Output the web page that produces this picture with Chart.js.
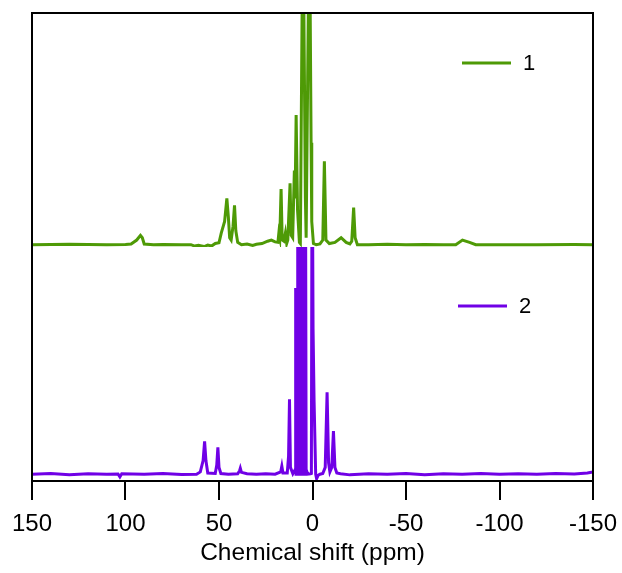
<!DOCTYPE html>
<html lang="en">
<head>
    <meta charset="UTF-8" />
    <title>13C NMR spectra</title>
    <script src="https://cdn.jsdelivr.net/npm/chart.js"></script>
    <style>
        body {
            margin: 0;
            background: #fff;
        }
        canvas {
            display: block;
        }
    </style>
</head>
<body>

<canvas id="nmr" width="622" height="573"></canvas>

<script>
// Spectrum 1 (top trace): chemical shift (ppm) and intensity (arb. units)
const shift1 = [150, 130, 110, 100, 97, 94, 92, 91, 90, 85, 80, 70, 65, 63, 61, 58, 56, 54, 52, 50,
    48.8, 47, 45.8, 45, 44.3, 43.5, 42.5, 41.7, 41, 40, 38, 35, 32, 30, 27, 24, 22, 20, 18.5,
    18, 17.5, 16.8, 16.2, 15.3, 14.5, 13.8, 13.2, 12.0, 11.4, 10.6, 9.7, 9.3, 8.75, 8.0, 7.0, 6.5,
    5.1, 3.8, 3.4, 1.65, 0.75, 0.4, -0.5, -2, -4, -5.5, -6.35, -7.2, -9, -12, -15.3, -18, -20,
    -21, -22, -22.8, -24, -30, -40, -50, -60, -70, -76.6, -80.2, -84, -87.3, -100, -120, -140, -150];
const int1 = [0, 0.2, 0, 0.1, 0.3, 2, 4, 3, 0.3, 0, 0.1, 0, 0, -0.6, -0.3, -0.8, -0.2, -0.6, 0.5, 0.8,
    5, 10, 20, 12, 3, 2, 8, 17, 6, 1, 0, 0.3, -0.3, 0.2, 0.5, 1.5, 2, 1.2, 1,
    5, 3, 24, 2, 1.5, 5, 0.5, 2, 26.5, 4, 3, 32, 20, 56, 15, 1, 0.5,
    150, 20, 3, 150, 44, 10, 0.5, 0, 0.3, 2, 36, 2, 0.5, 1, 3, 1, 0.3,
    1.5, 16, 3, 0, 0, 0.2, 0, 0.1, 0, 0, 2, 1, 0, 0, 0, 0.1, 0];

// Spectrum 2 (bottom trace)
const shift2 = [150, 140, 130, 120, 110, 104, 103, 102, 90, 80, 70, 62, 60, 58.5, 57.7, 57, 56, 52,
    51.2, 50.6, 50, 49, 45, 40, 39, 38.6, 38, 35, 30, 25, 20, 17, 16.4, 15.8, 13.5, 12.8, 12.3,
    11.8, 10.5, 9.3, 9.0, 8.8, 8.6, 8.4, 8.2, 8.0,
    7.8, 7.6, 7.4, 7.2, 7.0, 6.8, 6.6, 6.4, 6.2, 6.0, 5.8, 5.6, 5.4, 5.2, 5.0, 4.8, 4.6, 4.4, 4.2, 4.0, 3.8,
    3.4, 2.5, 1.0, 0.6, 0.2, -0.3, -0.85, -1.7, -2.2, -3, -4, -5.5, -6.8, -7.8, -8.6, -9.3, -10.3, -11.2,
    -12, -13, -15, -20, -30, -40, -50, -60, -70, -80, -90, -100, -110, -120, -130, -140, -147, -150];
const int2 = [0, 0.3, -0.2, 0.2, 0, 0.1, -1.2, 0.2, 0, 0.3, -0.1, 0, 1, 6, 14.5, 6, 0.5, 0.3,
    4, 11.8, 3, 0.3, 0, 0.2, 1.5, 2.6, 0.8, 0.2, 0, 0.2, 0, 1, 3.5, 0.5, 0.5, 8, 33,
    3, 0.2, 2, 82, 0, 82, 0, 80, 0,
    160, 0, 160, 0, 160, 0, 160, 0, 160, 0, 160, 0, 160, 0, 160, 0, 160, 0, 160, 0, 160,
    2, 0, 0.2, 0.3, 160, 64, 32, 0, -2, -0.5, 0, 0.3, 3, 36, 5, 1, 3, 19,
    3, 0.5, 0.2, -0.3, 0.2, 0, 0.3, -0.2, 0.2, 0, 0.3, 0, 0.2, 0, 0.3, 0.1, 0.5, 1];

const xTicks = [150, 100, 50, 0, -50, -100, -150];
const seriesLabels = ['1', '2'];
const seriesColors = ['#4e9a06', '#7000e6'];

const toPoints = (xs, ys) => xs.map((x, i) => ({ x: x, y: ys[i] }));

Chart.defaults.font.family = "Arial, 'Liberation Sans', sans-serif";
Chart.defaults.color = '#000';

// Black box around the plot area
const framePlugin = {
    id: 'frame',
    afterDatasetsDraw(chart) {
        const { ctx, chartArea: a } = chart;
        ctx.save();
        ctx.strokeStyle = '#000';
        ctx.lineWidth = 2;
        ctx.strokeRect(a.left, a.top, a.right - a.left, a.bottom - a.top);
        ctx.restore();
    }
};

// One legend entry inside each trace's panel
const legendSpots = [{ dx: 131, dy: 50 }, { dx: 135, dy: 59 }];
const panelLegend = {
    id: 'panelLegend',
    afterDatasetsDraw(chart) {
        const ctx = chart.ctx;
        chart.data.datasets.forEach((ds, i) => {
            const yScale = chart.scales[ds.yAxisID];
            const x0 = chart.chartArea.right - legendSpots[i].dx;
            const y = yScale.top + legendSpots[i].dy;
            ctx.save();
            ctx.strokeStyle = ds.borderColor;
            ctx.lineWidth = 3;
            ctx.beginPath();
            ctx.moveTo(x0, y);
            ctx.lineTo(x0 + 49, y);
            ctx.stroke();
            ctx.fillStyle = '#000';
            ctx.font = "22px Arial, 'Liberation Sans', sans-serif";
            ctx.textAlign = 'left';
            ctx.textBaseline = 'middle';
            ctx.fillText(ds.label, x0 + 61, y + 1);
            ctx.restore();
        });
    }
};

new Chart(document.getElementById('nmr'), {
    type: 'line',
    data: {
        datasets: [
            {
                label: seriesLabels[0],
                data: toPoints(shift1, int1),
                yAxisID: 'yG',
                borderColor: seriesColors[0],
                borderWidth: 3,
                pointRadius: 0,
                tension: 0
            },
            {
                label: seriesLabels[1],
                data: toPoints(shift2, int2),
                yAxisID: 'yP',
                borderColor: seriesColors[1],
                borderWidth: 3,
                pointRadius: 0,
                tension: 0
            }
        ]
    },
    options: {
        responsive: false,
        animation: false,
        devicePixelRatio: 1,
        layout: { padding: { left: 32, right: 29, top: 13, bottom: 5 } },
        plugins: {
            legend: { display: false },
            tooltip: { enabled: false }
        },
        scales: {
            x: {
                type: 'linear',
                reverse: true,
                min: -150,
                max: 150,
                afterBuildTicks: scale => {
                    scale.ticks = xTicks.map(v => ({ value: v }));
                },
                // fixed axis height; end labels may overhang the padding
                afterFit: scale => {
                    scale.height = 87;
                    scale.paddingLeft = 0;
                    scale.paddingRight = 0;
                },
                ticks: {
                    font: { size: 24 },
                    padding: 10,
                    maxRotation: 0,
                    autoSkip: false
                },
                grid: {
                    drawOnChartArea: false,
                    drawTicks: true,
                    tickLength: 19,
                    color: '#000',
                    lineWidth: 2
                },
                border: { display: true, color: '#000', width: 2 },
                title: {
                    display: true,
                    text: 'Chemical shift (ppm)',
                    font: { size: 24.5 },
                    padding: { top: 0, bottom: 0 }
                }
            },
            // two stacked panels: trace 1 on top, trace 2 below
            yG: {
                type: 'linear',
                display: false,
                stack: 'spectra',
                stackWeight: 1,
                weight: 1,
                min: -1,
                max: 100
            },
            yP: {
                type: 'linear',
                display: false,
                stack: 'spectra',
                stackWeight: 1,
                weight: 0,
                min: -3,
                max: 100
            }
        }
    },
    plugins: [framePlugin, panelLegend]
});
</script>

</body>
</html>
